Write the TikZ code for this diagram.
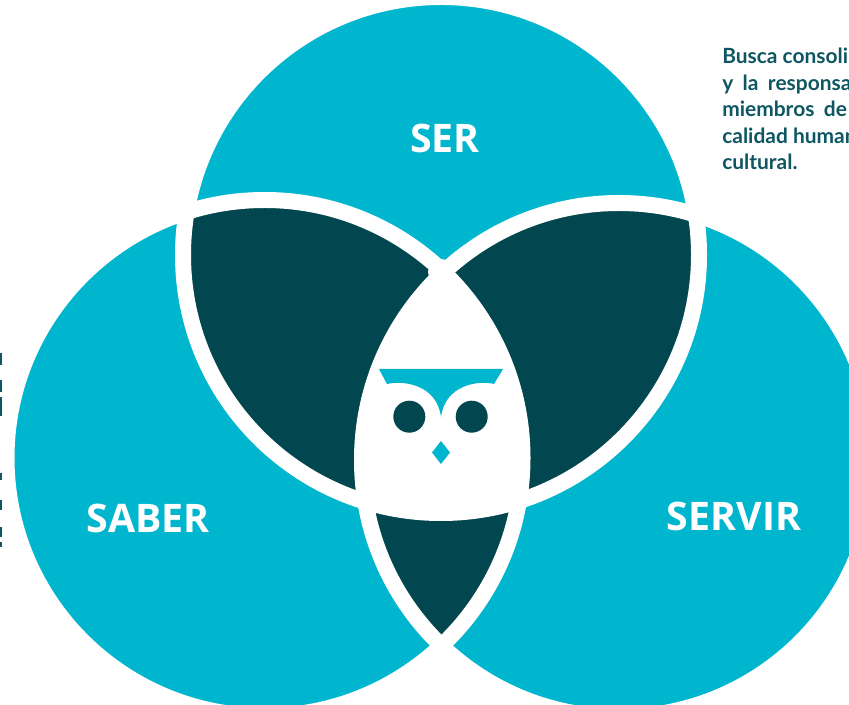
\documentclass[tikz,border=0pt]{standalone}
\usepackage{xcolor}
\usepackage{fontspec}
\setmainfont{Open Sans}
\newfontfamily\latofont{Lato}
\definecolor{tealring}{HTML}{00B6CE}
\definecolor{darklens}{HTML}{02474F}
\definecolor{bodytext}{HTML}{0E5662}
\tikzset{
    ringlabel/.style={anchor=center,inner sep=0.75pt,text=white,font=\fontsize{29.5}{32}\selectfont\bfseries},
    bodylabel/.style={anchor=north west,inner sep=0.75pt,align=left,text=bodytext,font=\latofont\fontsize{15.7}{19.9}\selectfont\bfseries},
    band/.style={draw=white,line width=12pt}
}
\begin{document}
\begin{tikzpicture}[x=0.75pt,y=0.75pt,yscale=-1,xscale=1]
    \useasboundingbox (0,0) rectangle (849,705);
    \clip (0,0) rectangle (849,705);
    \coordinate (ser) at (441,255);
    \coordinate (saber) at (264.5,458);
    \coordinate (servir) at (619,460);

    \fill[tealring] (ser) circle [radius=258];
    \fill[tealring] (saber) circle [radius=258];
    \fill[tealring] (servir) circle [radius=257];

    \begin{scope}
        \clip (ser) circle [radius=258];
        \fill[darklens] (saber) circle [radius=258];
        \fill[darklens] (servir) circle [radius=257];
    \end{scope}
    \begin{scope}
        \clip (saber) circle [radius=258];
        \fill[darklens] (servir) circle [radius=257];
    \end{scope}
    \begin{scope}
        \clip (ser) circle [radius=258];
        \clip (saber) circle [radius=258];
        \fill[white] (servir) circle [radius=257];
    \end{scope}

    \draw[band] (ser) circle [radius=258];
    \draw[band] (saber) circle [radius=258];
    \draw[band] (servir) circle [radius=257];

    % soft corners of the dark parts
    \fill[white] (441,272) circle [radius=13];
    \fill[white] (190,221) -- (188,210) -- (201,212) -- cycle;
    \fill[white] (692,224) -- (695,212) -- (681,214) -- cycle;

    % owl
    \fill[tealring] (379,369) -- (503,369) -- (494,384) .. controls (478,380) and (445,385) .. (441,417) .. controls (437,385) and (404,380) .. (387,384) -- cycle;
    \fill[darklens] (409.3,416.7) circle [radius=16];
    \fill[darklens] (471.7,416.7) circle [radius=16];
    \fill[tealring] (441,441) -- (450,452.5) -- (441,464) -- (432,452.5) -- cycle;

    \node[ringlabel] (serlabel) at (445,138) {SER};
    \node[ringlabel] (saberlabel) at (148,518) {SABER};
    \node[ringlabel] (servirlabel) at (734,516) {SERVIR};
    \node[bodylabel] (bodytext) at (721,47) {Busca consoli\\y\hspace{0.45em}la\hspace{0.45em}responsa\\miembros\hspace{0.45em}de\\calidad human\\cultural.};

    % cut off text at the left edge
    \foreach \marky/\marklen in {359/12,386/12,407/19,476/7,505/10,532/10,544/5} {
        \draw[bodytext,line width=1.5pt] (0.5,\marky-\marklen/2) -- (0.5,\marky+\marklen/2);
    }
\end{tikzpicture}
\end{document}
